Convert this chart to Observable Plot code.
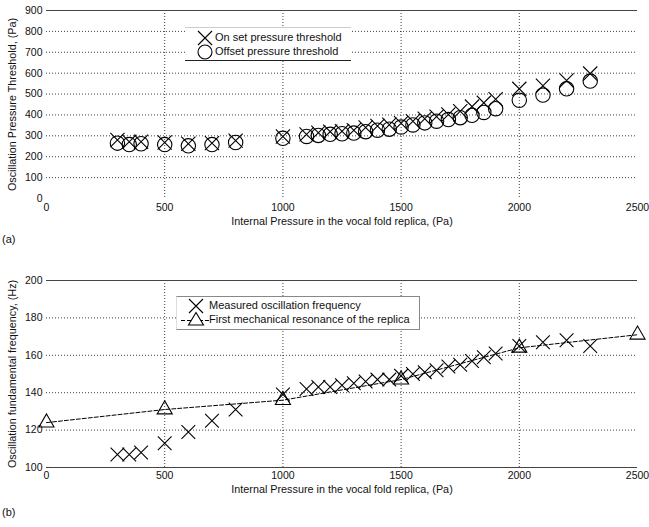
<!DOCTYPE html>
<html>
<head>
<meta charset="utf-8">
<script src="https://cdn.jsdelivr.net/npm/d3@7"></script>
<script src="https://cdn.jsdelivr.net/npm/@observablehq/plot@0.6"></script>
<style>
  body { margin: 0; background: #fff; }
  #fig { position: relative; width: 649px; height: 527px; font-family: "Liberation Sans", Arial, Helvetica, sans-serif; color: #111; overflow: hidden; }
  .panel { position: absolute; left: 0; overflow: visible; }
  .tag { position: absolute; left: 2px; font-size: 11px; }
  .legend { position: absolute; background: #fff; font-size: 11px; box-sizing: border-box; }
  .legend svg { position: absolute; overflow: visible; }
  .legend span { position: absolute; line-height: 12px; white-space: nowrap; }
</style>
</head>
<body>
<div id="fig"></div>
<script>
// ---------- data ----------
const pressure = [300, 350, 400, 500, 600, 700, 800, 1000, 1100, 1150, 1200, 1250, 1300, 1350, 1400, 1450, 1500, 1550, 1600, 1650, 1700, 1750, 1800, 1850, 1900, 2000, 2100, 2200, 2300];
const onsetThreshold = [280, 272, 272, 268, 262, 265, 277, 297, 307, 315, 320, 322, 327, 340, 347, 353, 360, 370, 382, 392, 402, 418, 440, 458, 475, 525, 540, 565, 598];
const offsetThreshold = [265, 258, 262, 258, 252, 258, 268, 288, 297, 302, 307, 310, 313, 320, 327, 332, 342, 352, 362, 370, 378, 387, 398, 412, 430, 470, 495, 525, 562];
const measuredFrequency = [107, 107, 108, 113, 119, 125, 131, 139, 142, 143, 143, 144, 145, 146, 147, 147, 149, 150, 151, 152, 154, 155, 157, 159, 161, 165, 167, 168, 165];
const resonancePressure = [0, 500, 1000, 1500, 2000, 2500];
const resonanceFrequency = [124, 131, 136, 147, 164, 171];

const xTicks = [0, 500, 1000, 1500, 2000, 2500];
const xGrid = [500, 1000, 1500, 2000];
const yTicksA = [0, 100, 200, 300, 400, 500, 600, 700, 800, 900];
const yGridA = [100, 200, 300, 400, 500, 600, 700, 800];
const yTicksB = [100, 120, 140, 160, 180, 200];
const yGridB = [120, 140, 160, 180];

const xLabel = "Internal Pressure in the vocal fold replica, (Pa)";
const yLabelA = "Oscillation Pressure Threshold, (Pa)";
const yLabelB = "Oscillation fundamental frequency, (Hz)";
const legendA = ["On set pressure threshold", "Offset pressure threshold"];
const legendB = ["Measured oscillation frequency", "First mechanical resonance of the replica"];

const dataA = pressure.map((p, i) => ({p, on: onsetThreshold[i], off: offsetThreshold[i]}));
const dataB = pressure.map((p, i) => ({p, f: measuredFrequency[i]}));
const dataR = resonancePressure.map((p, i) => ({p, f: resonanceFrequency[i]}));

const fontFamily = '"Liberation Sans", Arial, Helvetica, sans-serif';
const gridStyle = {stroke: "#000", strokeOpacity: 0.75, strokeDasharray: "1,2", strokeWidth: 1};
const fmt = d3.format("d");

const fig = document.getElementById("fig");

// ---------- panel (a) ----------
const plotA = Plot.plot({
  width: 649, height: 228,
  marginTop: 10, marginRight: 12, marginBottom: 30, marginLeft: 46,
  style: {fontFamily, fontSize: "10.5px", color: "#111", background: "transparent", overflow: "visible"},
  x: {domain: [0, 2500]},
  y: {domain: [0, 900]},
  marks: [
    Plot.ruleX(xGrid, {...gridStyle}),
    Plot.ruleY(yGridA, {...gridStyle}),
    Plot.ruleY([900], {stroke: "#444", strokeWidth: 1}),
    Plot.axisX({ticks: xTicks, tickFormat: fmt, tickSize: 0, tickPadding: 5, label: null}),
    Plot.axisY({ticks: yTicksA, tickFormat: fmt, tickSize: 0, tickPadding: 4, label: null}),
    Plot.dot(dataA, {x: "p", y: "off", symbol: "circle", r: 7.2, fill: "none", stroke: "#000", strokeWidth: 1.1}),
    Plot.dot(dataA, {x: "p", y: "on", symbol: "times", r: 6.5, stroke: "#000", strokeWidth: 1.1}),
    Plot.text([xLabel], {frameAnchor: "bottom", dy: 23, lineAnchor: "middle", textAnchor: "middle", fontSize: 10.8, fill: "#111"}),
    Plot.text([yLabelA], {frameAnchor: "left", dx: -34, rotate: -90, textAnchor: "middle", lineAnchor: "middle", fontSize: 10.8, fill: "#111"})
  ]
});
plotA.classList.add("panel");
plotA.style.top = "0px";
fig.appendChild(plotA);

// ---------- panel (b) ----------
const plotB = Plot.plot({
  width: 649, height: 248,
  marginTop: 30, marginRight: 12, marginBottom: 31, marginLeft: 46,
  style: {fontFamily, fontSize: "10.5px", color: "#111", background: "transparent", overflow: "visible"},
  x: {domain: [0, 2500]},
  y: {domain: [100, 200]},
  marks: [
    Plot.ruleX(xGrid, {...gridStyle}),
    Plot.ruleY(yGridB, {...gridStyle}),
    Plot.ruleY([100, 200], {stroke: "#444", strokeWidth: 1}),
    Plot.axisX({ticks: xTicks, tickFormat: fmt, tickSize: 0, tickPadding: 4, label: null}),
    Plot.axisY({ticks: yTicksB, tickFormat: fmt, tickSize: 0, tickPadding: 4, label: null}),
    Plot.line(dataR, {x: "p", y: "f", stroke: "#000", strokeWidth: 1, strokeDasharray: "4,2"}),
    Plot.dot(dataR, {x: "p", y: "f", symbol: "triangle", r: 5.6, fill: "none", stroke: "#000", strokeWidth: 1.1}),
    Plot.dot(dataB, {x: "p", y: "f", symbol: "times", r: 6.3, stroke: "#000", strokeWidth: 1.1}),
    Plot.text([xLabel], {frameAnchor: "bottom", dy: 22, lineAnchor: "middle", textAnchor: "middle", fontSize: 10.8, fill: "#111"}),
    Plot.text([yLabelB], {frameAnchor: "left", dx: -34, rotate: -90, textAnchor: "middle", lineAnchor: "middle", fontSize: 10.8, fill: "#111"})
  ]
});
plotB.classList.add("panel");
plotB.style.top = "250px";
fig.appendChild(plotB);

// ---------- panel tags ----------
function tag(text, top) {
  const d = document.createElement("div");
  d.className = "tag"; d.textContent = text; d.style.top = top + "px";
  fig.appendChild(d);
}
tag("(a)", 233);
tag("(b)", 506);

// ---------- legends ----------
const NS = "http://www.w3.org/2000/svg";
function symbolSvg(kind, cx, cy, withLine) {
  const svg = document.createElementNS(NS, "svg");
  svg.setAttribute("width", 40); svg.setAttribute("height", 20);
  svg.style.left = (cx - 20) + "px"; svg.style.top = (cy - 10) + "px";
  let html = "";
  if (withLine) html += '<line x1="5" y1="10.5" x2="35" y2="10.5" stroke="#000" stroke-dasharray="4,2"/>';
  if (kind === "times") html += '<path d="M13,3L27,17M27,3L13,17" stroke="#000" stroke-width="1.1" fill="none"/>';
  if (kind === "circle") html += '<circle cx="20" cy="10" r="7" stroke="#000" stroke-width="1.1" fill="none"/>';
  if (kind === "triangle") html += '<path d="M20,2.5L27.5,15L12.5,15Z" stroke="#000" stroke-width="1.1" fill="#fff"/>';
  svg.innerHTML = html;
  return svg;
}
function legend(box, entries) {
  const d = document.createElement("div");
  d.className = "legend";
  Object.assign(d.style, box.style);
  entries.forEach(e => {
    d.appendChild(symbolSvg(e.kind, e.sx, e.sy, e.line));
    const s = document.createElement("span");
    s.textContent = e.text; s.style.left = e.tx + "px"; s.style.top = (e.sy - 7) + "px";
    d.appendChild(s);
  });
  fig.appendChild(d);
}
legend({style: {left: "185px", top: "27px", width: "166px", height: "34px", borderTop: "1px solid #ccc", borderBottom: "1px solid #222"}}, [
  {kind: "times", sx: 20, sy: 10, tx: 30, text: legendA[0]},
  {kind: "circle", sx: 20, sy: 24, tx: 30, text: legendA[1]}
]);
legend({style: {left: "176px", top: "296px", width: "244px", height: "34px", border: "1px solid #888", borderLeft: "1px solid #ddd"}}, [
  {kind: "times", sx: 19, sy: 9, tx: 32, text: legendB[0]},
  {kind: "triangle", sx: 19, sy: 23, tx: 32, text: legendB[1], line: true}
]);
</script>
</body>
</html>
